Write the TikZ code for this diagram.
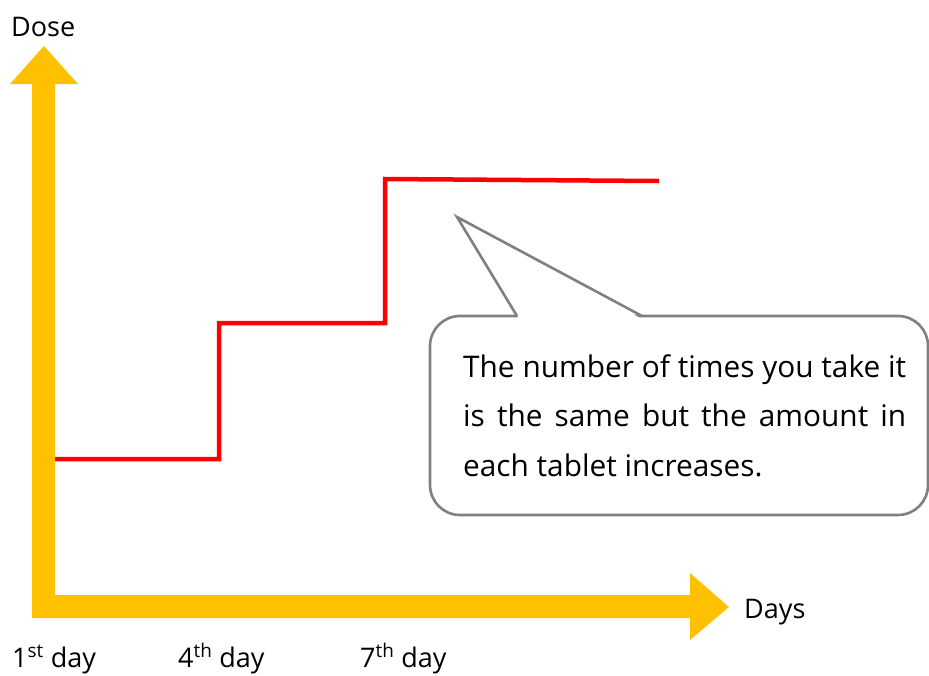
\documentclass[tikz,border=0pt]{standalone}
\usepackage{fontspec}
\setmainfont{Open Sans}
\definecolor{gold}{HTML}{FFC000}
\definecolor{callgray}{HTML}{808080}
\begin{document}
\begin{tikzpicture}[x=1pt,y=-1pt,
  lbl/.style={anchor=base west,inner sep=0pt,font=\fontsize{27}{32}\selectfont},
  dose/.style={draw=red,line width=4.5pt,line join=miter},
  callout/.style={draw=callgray,line width=2.6pt,fill=white}]
\useasboundingbox (0,0) rectangle (929,675);
% axes
\fill[gold] (32,618) -- (32,84) -- (10,84) -- (44,46) -- (78,84) -- (55,84)
  -- (55,595) -- (690,595) -- (690,573) -- (729,607) -- (690,640) -- (690,618) -- cycle;
% dose steps
\draw[dose] (55,459) -- (219,459) -- (219,323) -- (385,323) -- (385,179) -- (659,181);
% callout
\draw[callout,rounded corners=30pt] (430,316) rectangle (928,515);
\fill[white] (518.5,318) -- (457,217) -- (640,318) -- cycle;
\draw[callgray,line width=2.6pt,line join=miter] (517,316) -- (457,217) -- (642,316);
\node[anchor=north west,inner sep=0pt,text width=443pt,align=justify,
  font=\fontsize{29.8}{49.5}\selectfont] (txt) at (463,354)
  {The number of times you take it\linebreak is the same but the amount in\linebreak each tablet increases.};
% labels
\node[lbl] (doselbl) at (11,36) {Dose};
\node[lbl] (days) at (744,618) {Days};
\node[lbl] (d1) at (12,667) {1\textsuperscript{st} day};
\node[lbl] (d4) at (178,667) {4\textsuperscript{th} day};
\node[lbl] (d7) at (360,667) {7\textsuperscript{th} day};
\end{tikzpicture}
\end{document}
